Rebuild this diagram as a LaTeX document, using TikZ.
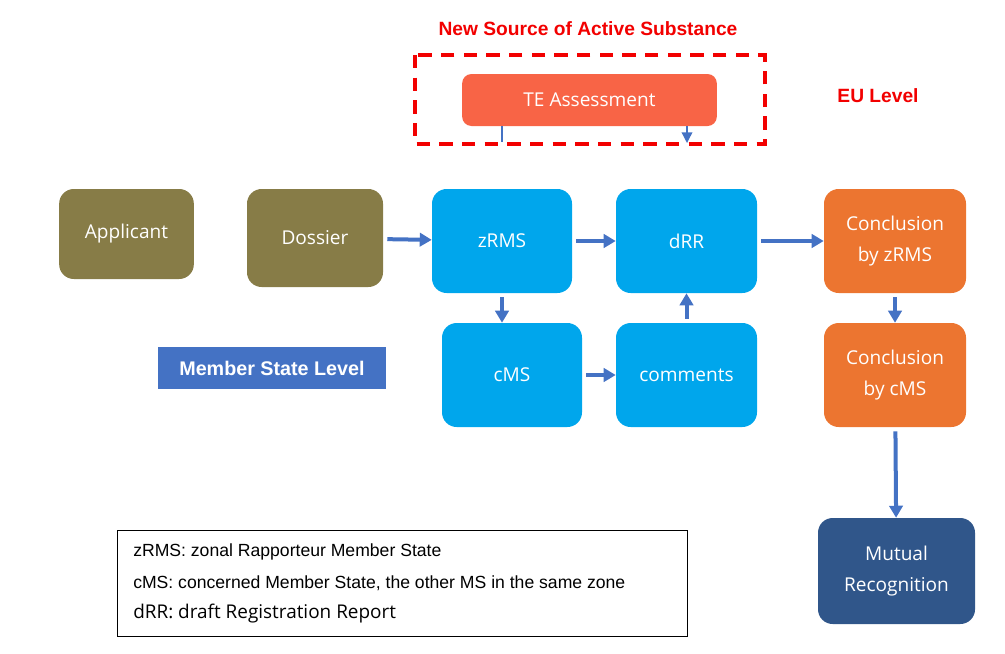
\documentclass[tikz,border=0pt]{standalone}
\usepackage{fontspec}
\setmainfont{Open Sans}
\newfontfamily\arialfont{Liberation Sans}
\usetikzlibrary{arrows.meta}
\definecolor{olivebox}{HTML}{877C47}
\definecolor{skybox}{HTML}{00A6EC}
\definecolor{orangebox}{HTML}{EC7530}
\definecolor{navybox}{HTML}{30568A}
\definecolor{tebox}{HTML}{F86446}
\definecolor{flowblue}{HTML}{4472C4}
\definecolor{levelred}{HTML}{F20000}
\tikzset{
  stage/.style={rounded corners=11pt, text=white, align=center, font=\fontsize{14.3}{23}\selectfont, inner sep=2pt},
  flow/.style={line width=3pt, color=flowblue, -{Triangle[length=9pt,width=10pt]}, shorten <=3pt},
  levellabel/.style={font=\arialfont\bfseries\fontsize{14.4}{17}\selectfont, text=levelred},
  legendline/.style={anchor=west, inner sep=0pt}
}

\begin{document}
\begin{tikzpicture}[x=0.75pt, y=-0.75pt]
        \useasboundingbox (0,0) rectangle (1005,653);
        \node[levellabel] (src) at (588,29) {New Source of Active Substance};
        \node[levellabel] (eu) at (878,96) {EU Level};
        \draw[levelred, line width=3pt, dash pattern=on 10pt off 7pt] (415,55) rectangle (765,144);
        \node[stage, fill=tebox, minimum width=191pt, minimum height=39pt, rounded corners=7pt] (te) at (589.5,100) {TE Assessment};
        \coordinate (teA) at (502,142);
        \coordinate (teB) at (687,143);
        \draw[flowblue, line width=1pt] (te.south -| teA) -- (teA);
        \draw[flowblue, line width=1pt, -{Triangle[length=8pt,width=8pt]}] (te.south -| teB) -- (teB);
        \node[stage, fill=olivebox, minimum width=101pt, minimum height=67.5pt] (applicant) at (126.5,234) {Applicant};
        \node[stage, fill=olivebox, minimum width=102pt, minimum height=73.5pt] (dossier) at (315,238) {Dossier};
        \node[stage, fill=skybox, minimum width=105pt, minimum height=78pt] (zrms) at (502,241) {zRMS};
        \node[stage, fill=skybox, minimum width=105.75pt, minimum height=78pt] (drr) at (686.5,241) {dRR};
        \node[stage, fill=orangebox, minimum width=106.5pt, minimum height=78pt] (conz) at (895,241) {Conclusion\\by zRMS};
        \node[stage, fill=skybox, minimum width=105pt, minimum height=78pt] (cms) at (512,375) {cMS};
        \node[stage, fill=skybox, minimum width=105.75pt, minimum height=78pt] (comments) at (686.5,375) {comments};
        \node[stage, fill=orangebox, minimum width=106.5pt, minimum height=78pt] (conc) at (895,375) {Conclusion\\by cMS};
        \node[stage, fill=navybox, minimum width=117.75pt, minimum height=79.5pt] (mutual) at (896.5,571) {Mutual\\Recognition};
        \node[fill=flowblue, text=white, font=\arialfont\bfseries\fontsize{14.8}{17}\selectfont, minimum width=171pt, minimum height=31.5pt] (msl) at (272,368) {Member State Level};
        \draw[flow] (dossier) -- (zrms);
        \draw[flow] (zrms) -- (drr);
        \draw[flow] (drr) -- (conz);
        \draw[flow] (zrms.south) -- (zrms.south |- cms.north);
        \draw[flow] (cms) -- (comments);
        \draw[flow] (comments) -- (drr);
        \draw[flow] (conz) -- (conc);
        \draw[flow] (conc) -- (mutual);
        \node[draw, line width=0.8pt, minimum width=427pt, minimum height=80pt] (legend) at (402.5,583.5) {};
        \node[legendline, font=\arialfont\fontsize{13.2}{15}\selectfont] (leg1) at (133,552) {zRMS: zonal Rapporteur Member State};
        \node[legendline, font=\arialfont\fontsize{13.2}{15}\selectfont] (leg2) at (133,583) {cMS: concerned Member State, the other MS in the same zone};
        \node[legendline, font=\fontsize{14.2}{17}\selectfont] (leg3) at (133,614) {dRR: draft Registration Report};
\end{tikzpicture}
\end{document}
